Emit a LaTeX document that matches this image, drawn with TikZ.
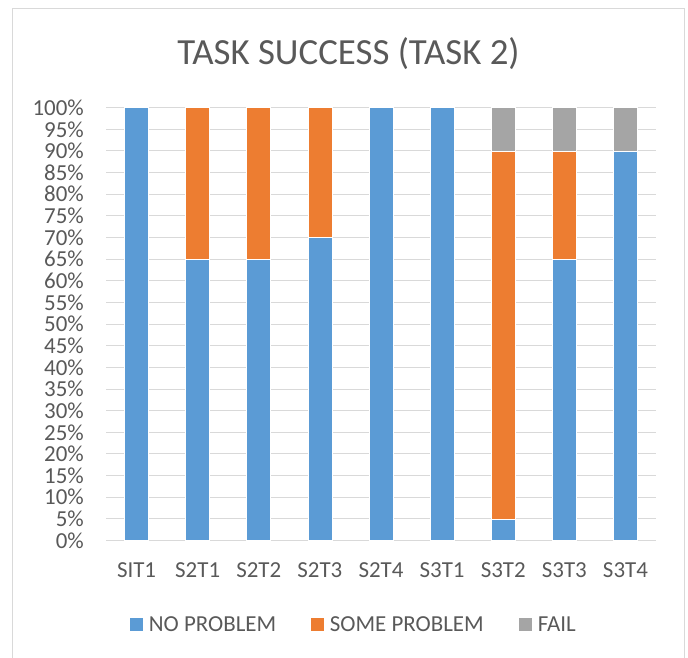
\documentclass[tikz,border=0pt]{standalone}
\usepackage{fontspec}
\setmainfont{Carlito}
\usetikzlibrary{positioning}
\definecolor{noprob}{HTML}{5B9BD5}
\definecolor{someprob}{HTML}{ED7D31}
\definecolor{failc}{HTML}{A5A5A5}
\definecolor{gridc}{HTML}{D9D9D9}
\definecolor{textc}{HTML}{595959}

\begin{document}
\begin{tikzpicture}[x=1bp,y=-1bp,
		lbl/.style={text=textc,font=\fontsize{23}{23}\selectfont,inner sep=0pt},
		bar/.style={draw=white,line width=0.6bp},
		key/.style={minimum size=13bp,inner sep=0pt}]
	\useasboundingbox (0,0) rectangle (688,658);
	\draw[gridc,line width=1bp] (12.5,8.5) rectangle (684.5,664);
	\node[lbl,font=\fontsize{37}{37}\selectfont] (title) at (348.5,54) {TASK SUCCESS (TASK 2)};
	\foreach \v in {0,5,...,100}
		{
		\draw[gridc,line width=1bp] (106,540.5-4.328*\v) -- (656,540.5-4.328*\v);
		\node[lbl,anchor=east] (t\v) at (84,540.5-4.328*\v) {\v\%};
		}
	\foreach \n/\a/\b/\c [count=\i] in {SIT1/100/0/0,S2T1/65/35/0,S2T2/65/35/0,S2T3/70/30/0,S2T4/100/0/0,S3T1/100/0/0,S3T2/5/85/10,S3T3/65/25/10,S3T4/90/0/10}
		{
		\pgfmathsetmacro{\xc}{106+61.11*(\i-0.5)}
		\filldraw[bar,fill=noprob] (\xc-12,540.5) rectangle (\xc+12,540.5-4.328*\a);
		\ifnum\b>0
			\filldraw[bar,fill=someprob] (\xc-12,540.5-4.328*\a) rectangle (\xc+12,540.5-4.328*\a-4.328*\b);
		\fi
		\ifnum\c>0
			\filldraw[bar,fill=failc] (\xc-12,540.5-4.328*\a-4.328*\b) rectangle (\xc+12,540.5-4.328*100);
		\fi
		\node[lbl] (c\i) at (\xc,570) {\n};
		}
	\node[key,fill=noprob] (k1) at (136,624) {};
	\node[lbl,right=6bp of k1] (l1) {NO PROBLEM};
	\node[key,fill=someprob] (k2) at (317,624) {};
	\node[lbl,right=6bp of k2] (l2) {SOME PROBLEM};
	\node[key,fill=failc] (k3) at (525,624) {};
	\node[lbl,right=6bp of k3] (l3) {FAIL};
\end{tikzpicture}
\end{document}
